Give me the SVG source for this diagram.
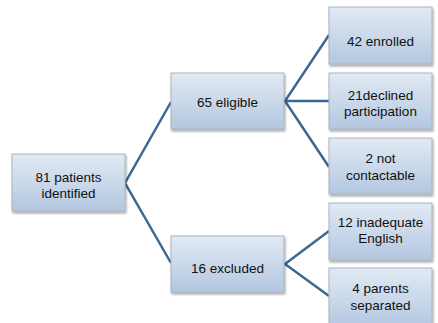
<svg xmlns="http://www.w3.org/2000/svg" width="438" height="323" viewBox="0 0 438 323">
<defs>
<linearGradient id="g" x1="0" y1="0" x2="0" y2="1">
<stop offset="0" stop-color="#e2eaf4"/>
<stop offset="1" stop-color="#b3c7e0"/>
</linearGradient>
<filter id="sh" x="-10%" y="-10%" width="130%" height="130%">
<feGaussianBlur in="SourceAlpha" stdDeviation="1"/>
<feOffset dx="1" dy="1.5"/>
<feComponentTransfer><feFuncA type="linear" slope="0.35"/></feComponentTransfer>
<feMerge><feMergeNode/><feMergeNode in="SourceGraphic"/></feMerge>
</filter>
</defs>
<style>
.box{fill:url(#g);stroke:#a9b4c0;stroke-width:1;filter:url(#sh)}
.t{font-family:"Liberation Sans",Arial,sans-serif;font-size:13.5px;fill:#111;text-anchor:middle}
.c{fill:none;stroke:#3b6894;stroke-width:2.5;stroke-linejoin:miter}
</style>
<rect width="438" height="323" fill="#fff"/>
<g id="connectors">
<path class="c" d="M171,102 L125,183 L171,263"/>
<path class="c" d="M329,35 L285,101 L329,167"/>
<path class="c" d="M329,101 L285,101"/>
<path class="c" d="M329,231 L285,264 L329,296"/>
</g>
<g id="n-identified">
<rect class="box" x="12" y="154" width="113" height="57"/>
<text class="t" x="68.5" y="182">81 patients</text>
<text class="t" x="68.5" y="198">identified</text>
</g>
<g id="n-eligible">
<rect class="box" x="171" y="73" width="113" height="56"/>
<text class="t" x="227.5" y="107">65 eligible</text>
</g>
<g id="n-excluded">
<rect class="box" x="171" y="236" width="113" height="56"/>
<text class="t" x="227.5" y="273">16 excluded</text>
</g>
<g id="n-enrolled">
<rect class="box" x="329" y="7" width="103" height="57"/>
<text class="t" x="380.5" y="46">42 enrolled</text>
</g>
<g id="n-declined">
<rect class="box" x="329" y="73" width="103" height="56"/>
<text class="t" x="380.5" y="100">21declined</text>
<text class="t" x="380.5" y="116">participation</text>
</g>
<g id="n-notcontact">
<rect class="box" x="329" y="138" width="103" height="56"/>
<text class="t" x="380.5" y="163">2 not</text>
<text class="t" x="380.5" y="180">contactable</text>
</g>
<g id="n-english">
<rect class="box" x="329" y="203" width="103" height="57"/>
<text class="t" x="380.5" y="227">12 inadequate</text>
<text class="t" x="380.5" y="243">English</text>
</g>
<g id="n-separated">
<rect class="box" x="329" y="268" width="103" height="60"/>
<text class="t" x="380.5" y="293">4 parents</text>
<text class="t" x="380.5" y="310">separated</text>
</g>
</svg>
